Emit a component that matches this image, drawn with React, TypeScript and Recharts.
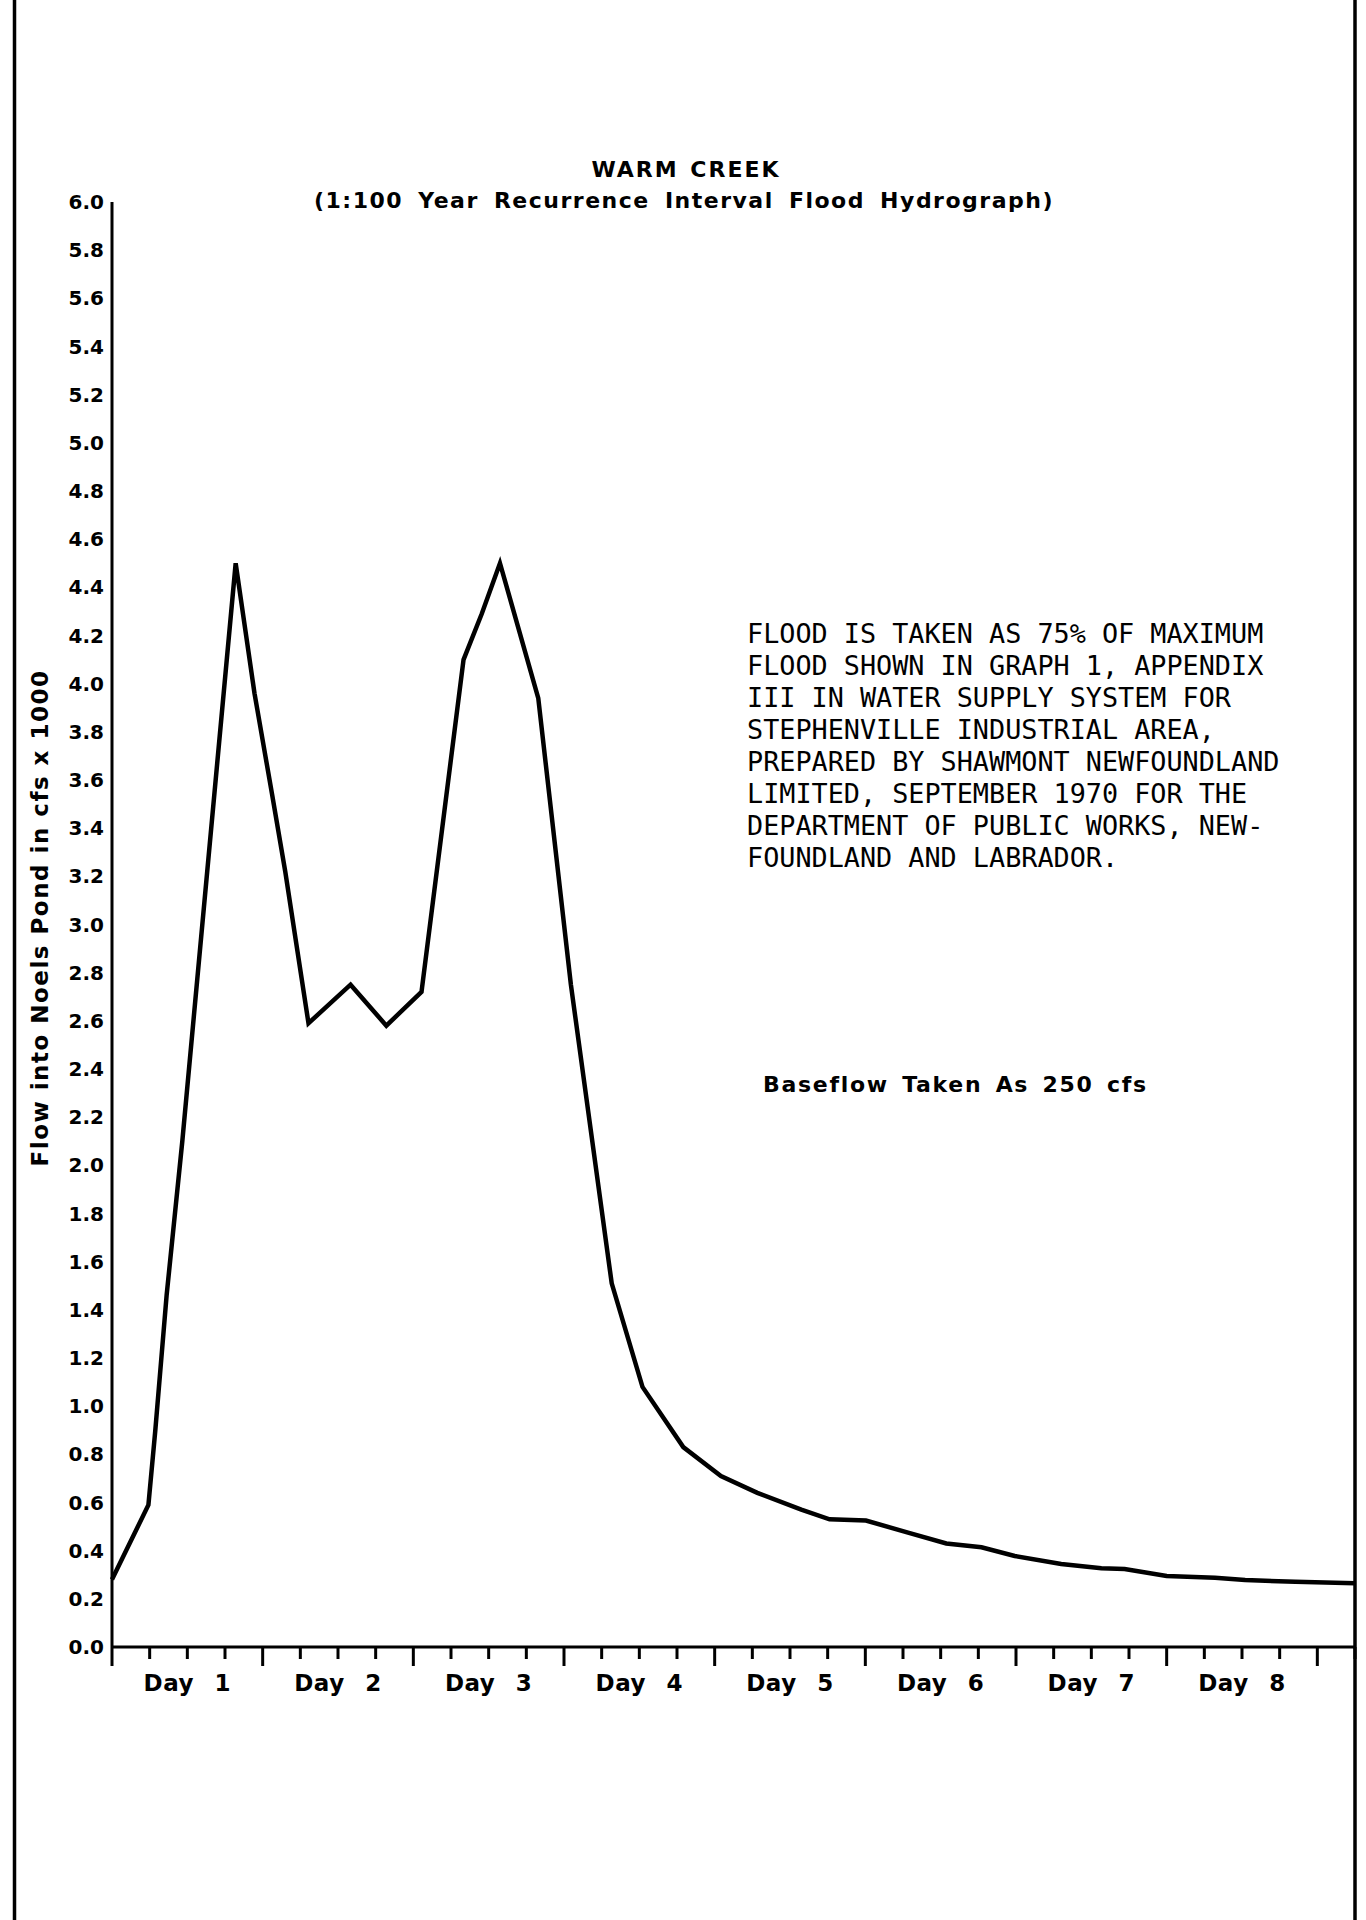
import { LineChart, Line, XAxis, YAxis } from 'recharts'

// hydrograph: hours from start of day 1, flow in cfs x 1000
const hours = [
    0, 5.8, 6.9, 8.7, 11.2, 19.7, 22.7, 25.5, 27.6, 31.3, 38.0, 43.7, 49.3, 56.0, 58.9, 61.8, 67.9, 73.1,
    79.6, 84.5, 91.0, 97.0, 102.8, 109.8, 114.3, 120.1, 126.8, 132.9, 138.5, 143.8, 151.2, 157.6, 161.3,
    168.0, 175.7, 180.5, 188.5, 198,
]
const flows = [
    0.28, 0.59, 0.9, 1.46, 2.1, 4.5, 3.96, 3.54, 3.22, 2.59, 2.75, 2.58, 2.72, 4.1, 4.29, 4.5, 3.94, 2.75,
    1.51, 1.08, 0.83, 0.71, 0.64, 0.57, 0.53, 0.525, 0.475, 0.43, 0.414, 0.378, 0.345, 0.327, 0.324,
    0.295, 0.288, 0.278, 0.271, 0.265,
]

const hourTicks = [
    0, 6, 12, 18, 24, 30, 36, 42, 48, 54, 60, 66, 72, 78, 84, 90, 96, 102, 108, 114, 120, 126, 132, 138,
    144, 150, 156, 162, 168, 174, 180, 186, 192, 198,
]
const flowTicks = [
    0, 0.2, 0.4, 0.6, 0.8, 1.0, 1.2, 1.4, 1.6, 1.8, 2.0, 2.2, 2.4, 2.6, 2.8, 3.0, 3.2, 3.4, 3.6, 3.8, 4.0,
    4.2, 4.4, 4.6, 4.8, 5.0, 5.2, 5.4, 5.6, 5.8, 6.0,
]
const dayLabels = ['Day 1', 'Day 2', 'Day 3', 'Day 4', 'Day 5', 'Day 6', 'Day 7', 'Day 8']

const noteLines = [
    'FLOOD IS TAKEN AS 75% OF MAXIMUM',
    'FLOOD SHOWN IN GRAPH 1, APPENDIX',
    'III IN WATER SUPPLY SYSTEM FOR',
    'STEPHENVILLE INDUSTRIAL AREA,',
    'PREPARED BY SHAWMONT NEWFOUNDLAND',
    'LIMITED, SEPTEMBER 1970 FOR THE',
    'DEPARTMENT OF PUBLIC WORKS, NEW-',
    'FOUNDLAND AND LABRADOR.',
]

const hydrograph = hours.map((hour, i) => ({ hour, flow: flows[i] }))

const sans = '"DejaVu Sans", Verdana, sans-serif'
const mono = '"DejaVu Sans Mono", "Liberation Mono", monospace'

function HourTick(props: any) {
    const { x, y, payload } = props
    const h = payload.value as number
    const long = h % 24 === 0
    const label = h % 24 === 12 ? dayLabels[(h - 12) / 24] : null
    return (
        <g>
            <line x1={x} y1={y} x2={x} y2={y + (long ? 19 : 12)} stroke="#000" strokeWidth={3} />
            {label && (
                <text
                    x={x}
                    y={y + 44}
                    textAnchor="middle"
                    fontFamily={sans}
                    fontWeight={700}
                    fontSize={23}
                    letterSpacing={0.5}
                    wordSpacing={12}
                    fill="#000"
                >
                    {label}
                </text>
            )}
        </g>
    )
}

export default function App() {
    return (
        <div style={{ position: 'absolute', left: 0, top: 0, width: 1366, height: 1920, background: '#fff' }}>
            <LineChart
                width={1366}
                height={1920}
                data={hydrograph}
                margin={{ top: 202, right: 11, bottom: 213, left: 12 }}
            >
                <XAxis
                    type="number"
                    dataKey="hour"
                    domain={[0, 198]}
                    ticks={hourTicks}
                    interval={0}
                    tickSize={0}
                    tickMargin={0}
                    tickLine={false}
                    tick={<HourTick />}
                    axisLine={{ stroke: '#000', strokeWidth: 3 }}
                    height={60}
                />
                <YAxis
                    type="number"
                    domain={[0, 6]}
                    ticks={flowTicks}
                    interval={0}
                    width={100}
                    tickSize={0}
                    tickMargin={8}
                    tickLine={false}
                    tickFormatter={(v: number) => v.toFixed(1)}
                    tick={{ fill: '#000', fontSize: 20, fontWeight: 700, fontFamily: sans }}
                    axisLine={{ stroke: '#000', strokeWidth: 3 }}
                />
                <Line
                    type="linear"
                    dataKey="flow"
                    stroke="#000"
                    strokeWidth={4.5}
                    dot={false}
                    isAnimationActive={false}
                />
            </LineChart>

            <svg
                width={1366}
                height={1920}
                style={{ position: 'absolute', left: 0, top: 0, pointerEvents: 'none' }}
            >
                {/* page frame */}
                <line x1={14.5} y1={0} x2={14.5} y2={1920} stroke="#000" strokeWidth={3.5} />
                <line x1={1355} y1={0} x2={1355} y2={1920} stroke="#000" strokeWidth={3.5} />

                <text
                    x={686}
                    y={177}
                    textAnchor="middle"
                    fontFamily={sans}
                    fontWeight={700}
                    fontSize={22}
                    letterSpacing={2}
                    wordSpacing={2}
                >
                    WARM CREEK
                </text>
                <text
                    x={684}
                    y={208}
                    textAnchor="middle"
                    fontFamily={sans}
                    fontWeight={700}
                    fontSize={22}
                    letterSpacing={1.5}
                    wordSpacing={6}
                >
                    (1:100 Year Recurrence Interval Flood Hydrograph)
                </text>

                <text
                    x={40}
                    y={918}
                    transform="rotate(-90 40 918)"
                    textAnchor="middle"
                    dominantBaseline="central"
                    fontFamily={sans}
                    fontWeight={700}
                    fontSize={23}
                    letterSpacing={1.5}
                >
                    Flow into Noels Pond in cfs x 1000
                </text>

                {noteLines.map((line, i) => (
                    <text key={i} x={747} y={643 + i * 32} fontFamily={mono} fontSize={26.8} fill="#000">
                        {line}
                    </text>
                ))}

                <text
                    x={763}
                    y={1092}
                    fontFamily={sans}
                    fontWeight={700}
                    fontSize={22}
                    letterSpacing={1.7}
                    wordSpacing={4}
                >
                    Baseflow Taken As 250 cfs
                </text>
            </svg>
        </div>
    )
}
